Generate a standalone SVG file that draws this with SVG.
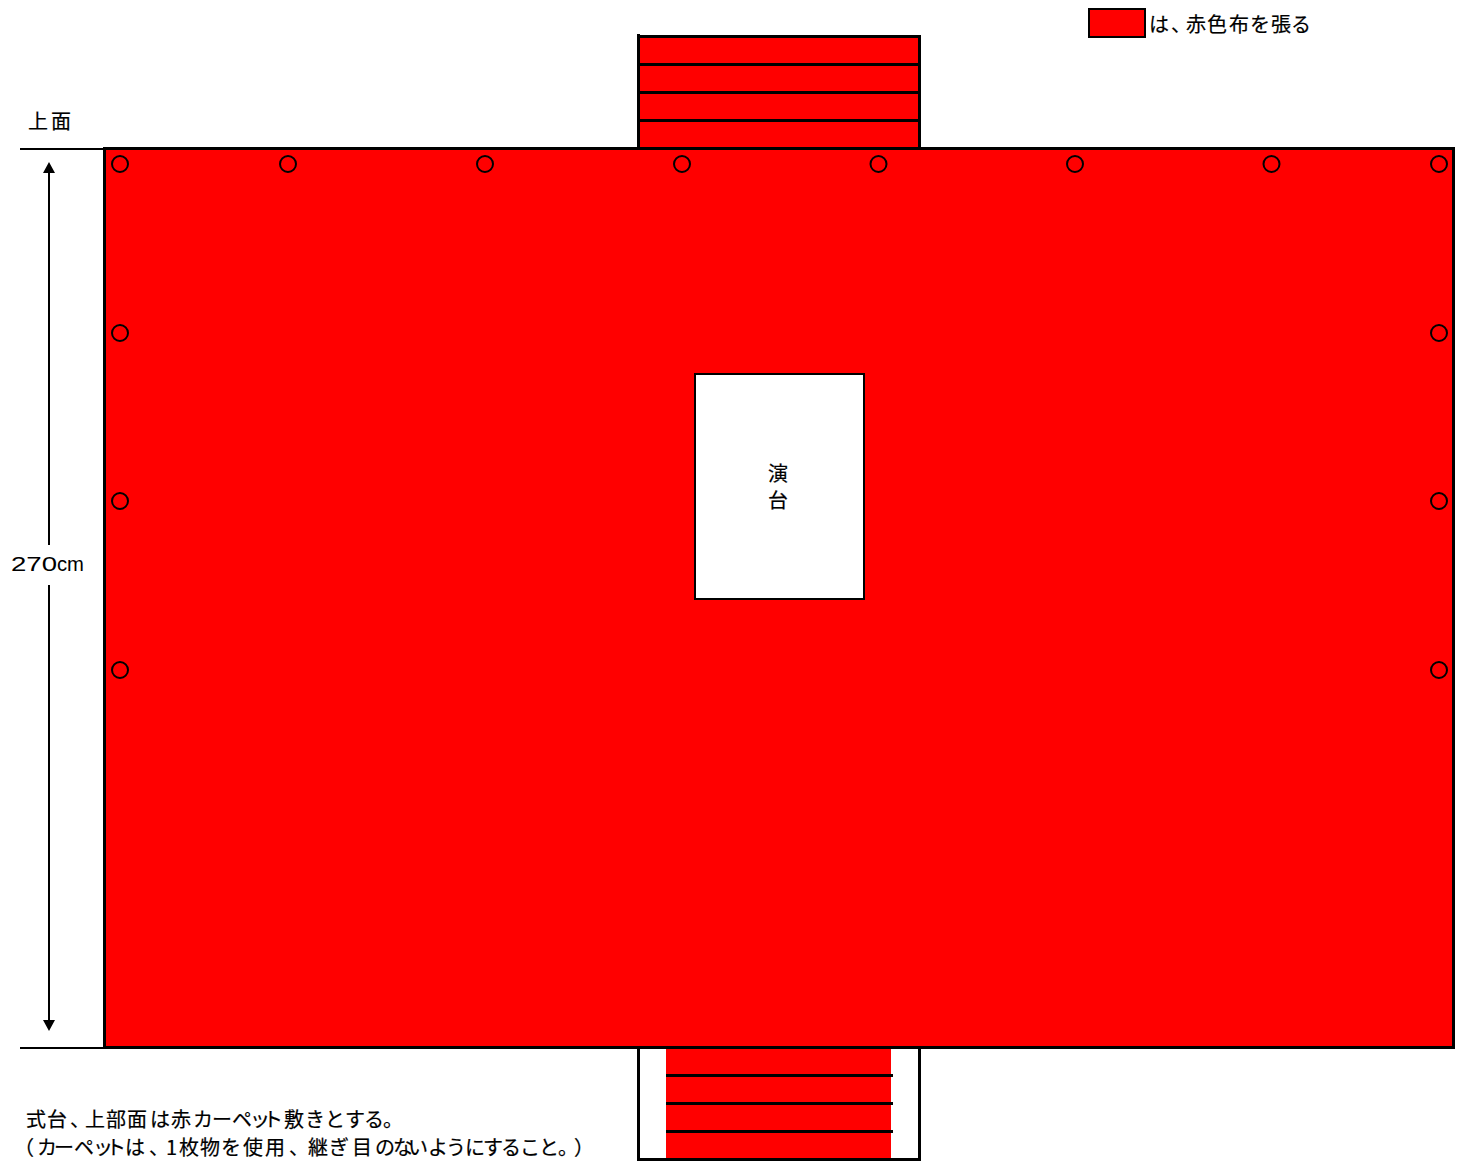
<svg xmlns="http://www.w3.org/2000/svg" width="1461" height="1161" viewBox="0 0 1461 1161">
<style>
.red{fill:#f00;stroke:#000;stroke-width:3}
.ln{stroke:#000;stroke-width:3;fill:none}
.h{fill:none;stroke:#000;stroke-width:2}
.t{font-family:"Noto Sans CJK JP","Liberation Sans",sans-serif;font-size:20px;fill:#000;stroke:#000;stroke-width:.2}
</style>
<defs><g id="bolt"><circle r="8" class="h"/></g></defs>
<rect width="1461" height="1161" fill="#fff"/>
<g id="stairs-top">
<rect x="638.5" y="36.5" width="281" height="112" class="red"/>
<path class="ln" d="M638.5 34V37M638.5 64.5H919.5M638.5 92.5H919.5M638.5 120.5H919.5"/>
</g>
<g id="stairs-bottom">
<rect x="638.5" y="1047.5" width="281" height="112" fill="#fff" stroke="#000" stroke-width="3"/>
<rect x="666" y="1049" width="225" height="109" fill="#f00"/>
<path class="ln" d="M666 1075.5H893M666 1103.5H893M666 1131.5H893"/>
</g>
<g id="platform">
<rect x="104.5" y="148.5" width="1349" height="899" class="red"/>
</g>
<g id="bolts">
<use href="#bolt" x="120" y="164"/><use href="#bolt" x="288" y="164"/><use href="#bolt" x="485" y="164"/><use href="#bolt" x="682" y="164"/><use href="#bolt" x="878.5" y="164"/><use href="#bolt" x="1075" y="164"/><use href="#bolt" x="1271.5" y="164"/><use href="#bolt" x="1439" y="164"/>
<use href="#bolt" x="120" y="333"/><use href="#bolt" x="120" y="501"/><use href="#bolt" x="120" y="670"/>
<use href="#bolt" x="1439" y="333"/><use href="#bolt" x="1439" y="501"/><use href="#bolt" x="1439" y="670"/>
</g>
<g id="podium">
<rect x="695" y="374" width="169" height="225" fill="#fff" stroke="#000" stroke-width="2"/>
<text class="t" x="778" y="481" text-anchor="middle">演</text>
<text class="t" x="778" y="508" text-anchor="middle">台</text>
</g>
<g id="legend">
<rect x="1089" y="9" width="56" height="28" fill="#f00" stroke="#000" stroke-width="2"/>
<text class="t" x="1149 1171 1186 1207 1229 1250 1271 1291" y="32">は、赤色布を張る</text>
</g>
<g id="connectors">
<path d="M20 149H104M20 1048H104" class="h"/>
<path d="M49 172V545M49 585V1021" class="h"/>
<path d="M49 162L55 173H43Z M49 1031L43 1020H55Z" fill="#000"/>
</g>
<g id="labels">
<text class="t" x="28 51" y="129">上面</text>
<text y="571" font-family="Liberation Sans, sans-serif" font-size="20"><tspan x="11" textLength="46" lengthAdjust="spacingAndGlyphs">270</tspan><tspan x="57" textLength="27" lengthAdjust="spacingAndGlyphs">cm</tspan></text>
<text class="t" x="26 47 70 85 106 127 150 171 193 212 232 250 263 284 305 325 345 364 383" y="1127">式台、上部面は赤カーペット敷きとする。</text>
<text class="t" x="14 37 54 74 93 106 125 149 166 179 200 221 243 265 289 308 329 352 375 393 408 428 446 465 483 501 520 539 558 574" y="1155">（カーペットは、1枚物を使用、継ぎ目のないようにすること。）</text>
</g>
</svg>
